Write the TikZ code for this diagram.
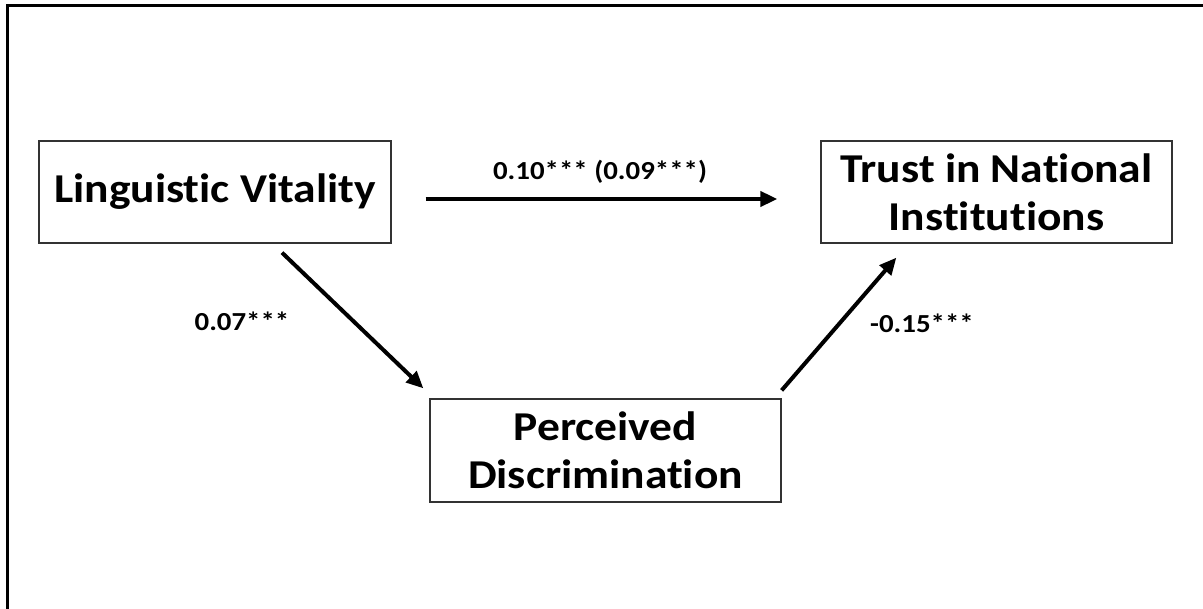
\documentclass[tikz,border=0pt]{standalone}
\usepackage{fontspec}
\setmainfont{Carlito}[FakeStretch=1.11,Ligatures=NoCommon]
\usetikzlibrary{arrows.meta}
\begin{document}
\begin{tikzpicture}[x=1pt,y=-1pt,
  box/.style={draw=black!80, line width=1.3pt, fill=white, inner sep=0pt, align=center,
    font=\fontsize{41}{48}\selectfont\bfseries},
  arr/.style={line width=4pt, -{Triangle[length=17pt,width=15pt]}},
  lbl/.style={font=\fontsize{26}{30}\selectfont\bfseries, inner sep=0pt}]
\useasboundingbox (0,0) rectangle (1203,609);
\draw[line width=3pt] (7,612) -- (7,6) -- (1206,6);
\node[box, minimum width=352pt, minimum height=102pt] (ling) at (215,192) {Linguistic Vitality};
\node[box, minimum width=351pt, minimum height=102pt] (trust) at (996.5,192) {Trust in National\\Institutions};
\node[box, minimum width=351pt, minimum height=103pt] (perc) at (605.5,450.5) {Perceived\\Discrimination};
\draw[arr] ([xshift=34pt,yshift=-7pt]ling.east) -- ([xshift=-43pt,yshift=-7pt]trust.west);
\draw[arr] ([xshift=67pt,yshift=-9pt]ling.south) -- ([xshift=-6pt,yshift=10pt]perc.north west);
\draw[arr] ([yshift=8pt]perc.north east) -- ([xshift=76pt,yshift=-14pt]trust.south west);
\node[lbl] (l1) at (600,172) {0.10*** (0.09***)};
\node[lbl] (l2) at (242,321) {0.07***};
\node[lbl] (l3) at (922,323) {-0.15***};
\end{tikzpicture}
\end{document}
